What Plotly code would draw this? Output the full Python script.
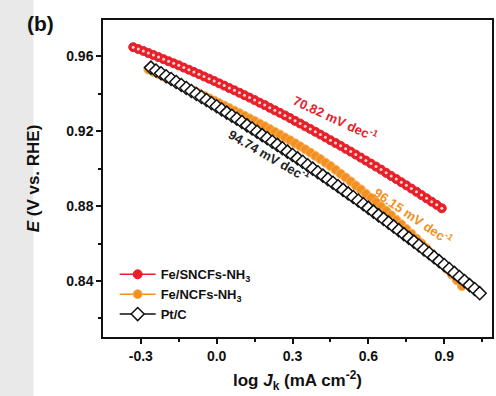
import plotly.graph_objects as go

# ---------------- data ----------------
red_x = [-0.33, -0.31, -0.29, -0.27, -0.25, -0.23, -0.21, -0.19, -0.17, -0.15,
         -0.13, -0.11, -0.09, -0.07, -0.05, -0.03, -0.01, 0.01, 0.03, 0.05,
         0.07, 0.09, 0.11, 0.13, 0.15, 0.17, 0.19, 0.21, 0.23, 0.25,
         0.27, 0.29, 0.31, 0.33, 0.35, 0.37, 0.39, 0.41, 0.43, 0.45,
         0.47, 0.49, 0.51, 0.53, 0.55, 0.57, 0.59, 0.61, 0.63, 0.65,
         0.67, 0.69, 0.71, 0.73, 0.75, 0.77, 0.79, 0.81, 0.83, 0.85,
         0.87, 0.89]
red_y = [0.9647, 0.9637, 0.9627, 0.9616, 0.9605, 0.9594, 0.9583, 0.9572, 0.9561, 0.9550,
         0.9538, 0.9527, 0.9515, 0.9503, 0.9491, 0.9479, 0.9467, 0.9454, 0.9442, 0.9429,
         0.9417, 0.9404, 0.9391, 0.9378, 0.9365, 0.9351, 0.9338, 0.9324, 0.9310, 0.9297,
         0.9283, 0.9269, 0.9254, 0.9240, 0.9225, 0.9211, 0.9196, 0.9181, 0.9166, 0.9151,
         0.9136, 0.9121, 0.9105, 0.9090, 0.9074, 0.9058, 0.9042, 0.9026, 0.9010, 0.8994,
         0.8977, 0.8960, 0.8944, 0.8927, 0.8910, 0.8893, 0.8876, 0.8858, 0.8841, 0.8823,
         0.8806, 0.8788]

orange_x = [-0.27, -0.25, -0.23, -0.21, -0.19, -0.17, -0.15, -0.13, -0.11, -0.09,
            -0.07, -0.05, -0.03, -0.01, 0.01, 0.03, 0.05, 0.07, 0.09, 0.11,
            0.13, 0.15, 0.17, 0.19, 0.21, 0.23, 0.25, 0.27, 0.29, 0.31,
            0.33, 0.35, 0.37, 0.39, 0.41, 0.43, 0.45, 0.47, 0.49, 0.51,
            0.53, 0.55, 0.57, 0.59, 0.61, 0.63, 0.65, 0.67, 0.69, 0.71,
            0.73, 0.75, 0.77, 0.79, 0.81, 0.83, 0.85, 0.87, 0.89, 0.91,
            0.93, 0.95, 0.97]
orange_y = [0.9528, 0.9516, 0.9503, 0.9491, 0.9478, 0.9465, 0.9453, 0.9440, 0.9427, 0.9414,
            0.9401, 0.9388, 0.9375, 0.9362, 0.9349, 0.9335, 0.9322, 0.9308, 0.9295, 0.9281,
            0.9267, 0.9253, 0.9239, 0.9225, 0.9210, 0.9195, 0.9181, 0.9165, 0.9150, 0.9134,
            0.9118, 0.9102, 0.9085, 0.9067, 0.9050, 0.9031, 0.9013, 0.8993, 0.8972, 0.8952,
            0.8931, 0.8909, 0.8888, 0.8865, 0.8843, 0.8820, 0.8797, 0.8774, 0.8750, 0.8726,
            0.8702, 0.8677, 0.8652, 0.8626, 0.8601, 0.8574, 0.8547, 0.8520, 0.8492, 0.8463,
            0.8434, 0.8404, 0.8373]

black_x = [-0.26, -0.24, -0.22, -0.20, -0.18, -0.16, -0.14, -0.12, -0.10, -0.08,
           -0.06, -0.04, -0.02, 0.00, 0.02, 0.04, 0.06, 0.08, 0.10, 0.12,
           0.14, 0.16, 0.18, 0.20, 0.22, 0.24, 0.26, 0.28, 0.30, 0.32,
           0.34, 0.36, 0.38, 0.40, 0.42, 0.44, 0.46, 0.48, 0.50, 0.52,
           0.54, 0.56, 0.58, 0.60, 0.62, 0.64, 0.66, 0.68, 0.70, 0.72,
           0.74, 0.76, 0.78, 0.80, 0.82, 0.84, 0.86, 0.88, 0.90, 0.92,
           0.94, 0.96, 0.98, 1.00, 1.02, 1.04]
black_y = [0.9538, 0.9523, 0.9508, 0.9492, 0.9477, 0.9461, 0.9445, 0.9429, 0.9413, 0.9397,
           0.9381, 0.9365, 0.9348, 0.9332, 0.9315, 0.9298, 0.9281, 0.9265, 0.9248, 0.9230,
           0.9213, 0.9196, 0.9178, 0.9161, 0.9143, 0.9126, 0.9108, 0.9090, 0.9072, 0.9054,
           0.9036, 0.9017, 0.8999, 0.8980, 0.8962, 0.8943, 0.8924, 0.8905, 0.8886, 0.8867,
           0.8848, 0.8829, 0.8809, 0.8790, 0.8770, 0.8750, 0.8731, 0.8711, 0.8691, 0.8671,
           0.8650, 0.8630, 0.8610, 0.8589, 0.8568, 0.8548, 0.8527, 0.8506, 0.8485, 0.8464,
           0.8443, 0.8421, 0.8400, 0.8378, 0.8357, 0.8335]

series_names = ["Fe/SNCFs-NH<sub>3</sub>", "Fe/NCFs-NH<sub>3</sub>", "Pt/C"]
slope_labels = ["70.82 mV dec<sup>-1</sup>", "94.74 mV dec<sup>-1</sup>", "96.15 mV dec<sup>-1</sup>"]
x_ticks = [-0.3, 0.0, 0.3, 0.6, 0.9]
x_tick_text = ["-0.3", "0.0", "0.3", "0.6", "0.9"]
y_ticks = [0.84, 0.88, 0.92, 0.96]
y_tick_text = ["0.84", "0.88", "0.92", "0.96"]

RED = "#e8202a"
ORANGE = "#f39020"
BLACK = "#111111"
FONT = "Liberation Sans"

fig = go.Figure()

fig.add_trace(go.Scatter(
    x=red_x, y=red_y, name=series_names[0], mode="lines+markers",
    line=dict(color=RED, width=1.5),
    marker=dict(symbol="circle", size=9, color=RED, line=dict(color=RED, width=1)),
))
fig.add_trace(go.Scatter(
    x=red_x, y=red_y, name=series_names[0], mode="markers", showlegend=False,
    marker=dict(symbol="circle", size=3, color="#ffd6d6", line=dict(width=0)),
    hoverinfo="skip",
))
fig.add_trace(go.Scatter(
    x=orange_x, y=orange_y, name=series_names[1], mode="lines+markers",
    line=dict(color=ORANGE, width=1.5),
    marker=dict(symbol="circle", size=9, color=ORANGE, line=dict(color="#f7b060", width=1)),
))
fig.add_trace(go.Scatter(
    x=black_x, y=black_y, name=series_names[2], mode="lines+markers",
    line=dict(color=BLACK, width=1.5),
    marker=dict(symbol="diamond", size=10, color="#ffffff", line=dict(color=BLACK, width=1.5)),
))

fig.update_layout(
    width=496, height=396,
    margin=dict(l=103, r=2, t=20, b=59),
    paper_bgcolor="white", plot_bgcolor="white",
    showlegend=True,
    legend=dict(
        x=0.03, y=0.245, xanchor="left", yanchor="top",
        bgcolor="rgba(0,0,0,0)", borderwidth=0,
        font=dict(family=FONT, size=13, color="#111111", weight="bold"),
        tracegroupgap=0, itemwidth=36,
    ),
    xaxis=dict(
        range=[-0.4495, 1.0887],
        tickmode="array", tickvals=x_ticks, ticktext=x_tick_text,
        ticks="outside", ticklen=5, tickwidth=1.5, tickcolor="#111111",
        minor=dict(dtick=0.15, tick0=-0.45, ticks="outside", ticklen=3, tickwidth=1.5, tickcolor="#111111"),
        showline=True, linecolor="#111111", linewidth=1.5, mirror=True,
        showgrid=False, zeroline=False,
        tickfont=dict(family=FONT, size=14, color="#111111", weight="bold"),
        title=dict(text="log <i>J</i><sub>k</sub> (mA cm<sup>-2</sup>)",
                   font=dict(family=FONT, size=17, color="#111111", weight="bold"), standoff=12),
    ),
    yaxis=dict(
        range=[0.81013, 0.97920],
        tickmode="array", tickvals=y_ticks, ticktext=y_tick_text,
        ticks="outside", ticklen=5, tickwidth=1.5, tickcolor="#111111",
        minor=dict(dtick=0.02, tick0=0.82, ticks="outside", ticklen=3, tickwidth=1.5, tickcolor="#111111"),
        showline=True, linecolor="#111111", linewidth=1.5, mirror=True,
        showgrid=False, zeroline=False,
        tickfont=dict(family=FONT, size=14, color="#111111", weight="bold"),
        title=dict(text="<i>E</i> (V vs. RHE)",
                   font=dict(family=FONT, size=17, color="#111111", weight="bold"), standoff=22),
    ),
    shapes=[dict(type="rect", xref="paper", yref="paper",
                 x0=-0.27, x1=-0.179, y0=-0.2, y1=1.08,
                 fillcolor="#e9e9e9", line=dict(width=0), layer="below")],
)

# slope annotations
fig.add_annotation(x=0.4686, y=0.9269, text=slope_labels[0], showarrow=False, textangle=25,
                   font=dict(family=FONT, size=13, color=RED, weight="bold"))
fig.add_annotation(x=0.206, y=0.9072, text=slope_labels[1], showarrow=False, textangle=30,
                   font=dict(family=FONT, size=13, color="#222222", weight="bold"))
fig.add_annotation(x=0.778, y=0.8747, text=slope_labels[2], showarrow=False, textangle=34,
                   font=dict(family=FONT, size=13, color=ORANGE, weight="bold"))

# panel label
fig.add_annotation(x=-0.16, y=0.99, xref="paper", yref="paper", text="(b)", showarrow=False,
                   xanchor="center", yanchor="middle",
                   font=dict(family=FONT, size=21, color="#111111", weight="bold"))

fig.write_html("out.html", config={"displayModeBar": False},
               post_script="document.body.style.margin='0';")
